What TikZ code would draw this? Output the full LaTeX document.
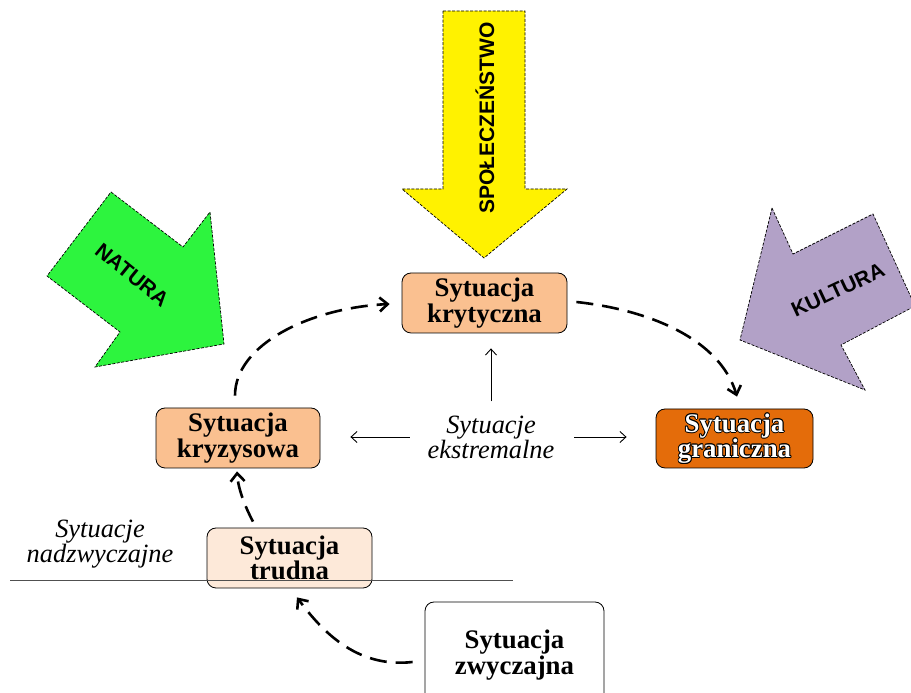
\documentclass[tikz,border=0pt]{standalone}
\usepackage{fontspec}
\setmainfont{Liberation Serif}
\newfontfamily\lblsans{Liberation Sans}
\usetikzlibrary{arrows.meta}
\definecolor{boxorange}{HTML}{FAC090}
\definecolor{boxlight}{HTML}{FDE9D9}
\definecolor{boxdark}{HTML}{E46C0A}
\definecolor{natgreen}{HTML}{2DF43E}
\definecolor{kulpurple}{HTML}{B2A1C7}
\definecolor{linegray}{HTML}{505050}
\newcommand{\bxfont}{\bfseries\fontsize{26.8}{21.5}\selectfont}
\newcommand{\extfont}{\itshape\fontsize{26.4}{21.5}\selectfont}
\newcommand{\nadzfont}{\itshape\fontsize{26.4}{18.5}\selectfont}
\newcommand{\bigfont}{\lblsans\bfseries\fontsize{21}{24}\selectfont}
\tikzset{
  sbox/.style={draw=black, line width=0.8pt, rounded corners=9pt, align=center, font=\bxfont, inner sep=0pt},
  boxtext/.style={align=center, font=\bxfont, inner sep=0pt},
  extlabel/.style={align=center, font=\extfont, inner sep=0pt},
  bigarrow/.style={draw=black, line width=0.7pt, dash pattern=on 3pt off 1.5pt},
  biglabel/.style={font=\bigfont, inner sep=0pt},
  dashline/.style={line width=2.6pt, dash pattern=on 17pt off 9pt, -{Straight Barb[length=8pt,width=14pt]}},
  thinarrow/.style={line width=0.9pt, -{Straight Barb[length=6pt,width=11pt]}},
}
\begin{document}
\begin{tikzpicture}[x=1pt,y=1pt]
\clip (0,0) rectangle (911,693);
% big arrows
\draw[bigarrow, fill=natgreen] (111,501) -- (183,446) -- (210,481) -- (224,349) -- (95,326) -- (120,361) -- (47,417) -- cycle;
\draw[bigarrow, fill=yellow] (443,682) -- (525,682) -- (525,504) -- (567,504) -- (484,435) -- (402,504) -- (443,504) -- cycle;
\draw[bigarrow, fill=kulpurple] (772,485) -- (793,439) -- (873,479) -- (915,387) -- (841,348) -- (865,303) -- (740,353) -- cycle;
\node[biglabel, rotate=90] (spol) at (485,575) {SPOŁECZEŃSTWO};
\node[biglabel, rotate=-39] (nat) at (132,418) {NATURA};
\node[biglabel, rotate=25] (kul) at (838,403) {KULTURA};
% boxes
\node[sbox, fill=boxorange, minimum width=165pt, minimum height=60pt] (kryt) at (484.5,390) {Sytuacja\\krytyczna};
\node[sbox, fill=boxorange, minimum width=164pt, minimum height=60pt] (kryz) at (238,255) {Sytuacja\\kryzysowa};
\node[sbox, fill=boxdark, minimum width=157pt, minimum height=59pt] (gran) at (734.5,254.5) {};
\foreach \dx/\dy [count=\i] in {0.9/0, -0.9/0, 0/0.9, 0/-0.9, 0.65/0.65, -0.65/0.65, 0.65/-0.65, -0.65/-0.65}
  \node[boxtext, text=black] (gsh\i) at ([shift={(\dx,\dy)}]gran.center) {Sytuacja\\graniczna};
\node[boxtext, text=white] (gtxt) at (gran.center) {Sytuacja\\graniczna};
\node[sbox, fill=boxlight, minimum width=165pt, minimum height=60pt] (trud) at (289.5,135) {Sytuacja\\trudna};
\node[sbox, fill=white, minimum width=179pt, minimum height=106pt] (zwy) at (514.5,38) {Sytuacja\\zwyczajna};
% separator line
\draw[linegray, line width=1pt] (10,112.5) -- (513,112.5);
% labels
\node[extlabel] (ext) at (491,256) {Sytuacje\\ekstremalne};
\node[align=center, font=\nadzfont, inner sep=0pt] (nadz) at (100,149) {Sytuacje\\nadzwyczajne};
% thin arrows
\draw[thinarrow, shorten <=14pt, shorten >=15pt] (ext.north) -- (ext.north |- kryt.south);
\draw[thinarrow, shorten <=18pt, shorten >=30pt] (ext.west) -- (ext.west -| kryz.east);
\draw[thinarrow, shorten <=20pt, shorten >=29pt] (ext.east) -- (ext.east -| gran.west);
% dashed curves
\draw[dashline] ([shift={(-3,12)}]kryz.north) .. controls ([shift={(-3,63)}]kryz.north) and ([shift={(-92,-5)}]kryt.west) .. ([shift={(-12,-1)}]kryt.west);
\draw[dashline] ([shift={(9,1)}]kryt.east) .. controls ([shift={(83,-7)}]kryt.east) and ([shift={(-14.5,69)}]gran.north) .. ([shift={(2.5,12)}]gran.north);
\draw[dashline] ([shift={(-36.5,6)}]trud.north) .. controls ([shift={(-44.5,21)}]trud.north) and ([shift={(0,-20)}]kryz.south) .. ([shift={(-1,-3)}]kryz.south);
\draw[dashline] ([shift={(-12,-7)}]zwy.west) .. controls ([shift={(-65,-13)}]zwy.west) and ([shift={(35.5,-47)}]trud.south) .. ([shift={(7.5,-9)}]trud.south);
\end{tikzpicture}
\end{document}
